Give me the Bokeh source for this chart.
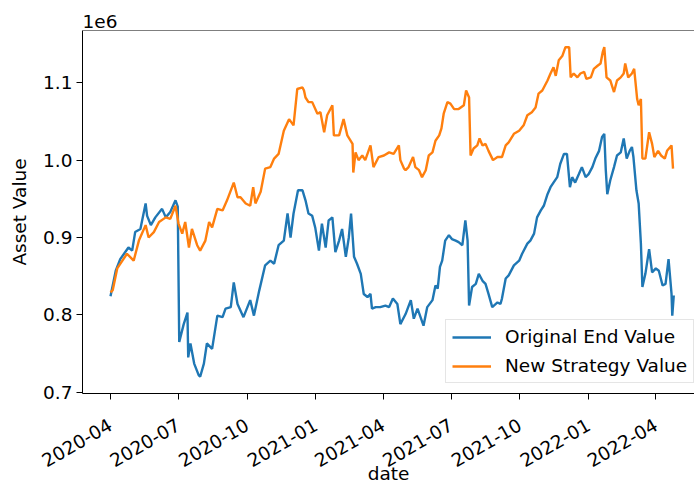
import math
import pandas as pd
from bokeh.plotting import figure
from bokeh.models import (Range1d, FixedTicker, DatetimeTickFormatter, CustomJSTickFormatter,
                          Span, ColumnDataSource)
from bokeh.embed import file_html
from bokeh.resources import INLINE

# ---------------- data ----------------
orig_dates = ["2020-04-01","2020-04-08","2020-04-14","2020-04-25","2020-04-30","2020-05-04","2020-05-11","2020-05-18","2020-05-20","2020-05-25",
              "2020-05-31","2020-06-09","2020-06-14","2020-06-20","2020-06-27","2020-06-30","2020-07-02","2020-07-08","2020-07-13","2020-07-14",
              "2020-07-17","2020-07-22","2020-07-28","2020-07-30","2020-08-04","2020-08-08","2020-08-15","2020-08-22","2020-08-29","2020-09-02",
              "2020-09-09","2020-09-13","2020-09-18","2020-09-26","2020-10-05","2020-10-10","2020-10-17","2020-10-25","2020-11-01","2020-11-06",
              "2020-11-12","2020-11-19","2020-11-24","2020-11-28","2020-12-02","2020-12-08","2020-12-14","2020-12-18","2020-12-22","2020-12-27",
              "2020-12-31","2021-01-05","2021-01-09","2021-01-14","2021-01-18","2021-01-23","2021-01-27","2021-02-01","2021-02-05","2021-02-10",
              "2021-02-14","2021-02-17","2021-02-21","2021-02-25","2021-03-02","2021-03-06","2021-03-11","2021-03-15","2021-03-17","2021-03-22",
              "2021-03-28","2021-04-04","2021-04-09","2021-04-14","2021-04-20","2021-04-24","2021-05-01","2021-05-08","2021-05-12","2021-05-17",
              "2021-05-21","2021-05-25","2021-05-30","2021-06-06","2021-06-10","2021-06-13","2021-06-16","2021-06-19","2021-06-23","2021-06-28",
              "2021-07-02","2021-07-07","2021-07-11","2021-07-16","2021-07-20","2021-07-23","2021-07-25","2021-07-29","2021-08-03","2021-08-07",
              "2021-08-12","2021-08-16","2021-08-20","2021-08-25","2021-09-01","2021-09-05","2021-09-07","2021-09-12","2021-09-16","2021-09-23",
              "2021-09-30","2021-10-04","2021-10-11","2021-10-15","2021-10-20","2021-10-24","2021-10-29","2021-11-02","2021-11-07","2021-11-11",
              "2021-11-15","2021-11-20","2021-11-24","2021-11-29","2021-12-03","2021-12-07","2021-12-10","2021-12-14","2021-12-19","2021-12-23",
              "2021-12-28","2022-01-01","2022-01-06","2022-01-10","2022-01-15","2022-01-19","2022-01-22","2022-01-24","2022-01-26","2022-01-30",
              "2022-02-04","2022-02-08","2022-02-13","2022-02-17","2022-02-21","2022-02-25","2022-02-28","2022-03-02","2022-03-06","2022-03-09",
              "2022-03-12","2022-03-14","2022-03-18","2022-03-23","2022-03-27","2022-04-01","2022-04-05","2022-04-10","2022-04-14","2022-04-18",
              "2022-04-22","2022-04-23","2022-04-25"]
orig_values_k = [824,857,872,887,883,907,911,944,928,916,
                 926,937,926,933,948,940,765,788,803,745,
                 763,737,722,720,737,763,756,799,797,808,
                 810,842,814,797,819,799,831,864,870,866,
                 890,896,931,900,931,961,961,948,931,928,
                 913,883,918,887,922,926,881,896,911,875,
                 900,931,875,866,853,827,823,827,808,810,
                 810,812,810,821,814,788,801,819,795,808,
                 797,786,810,819,838,834,862,870,896,903,
                 898,896,894,890,922,896,812,836,840,853,
                 844,840,827,810,816,814,821,847,851,864,
                 870,879,892,896,905,926,935,941,956,965,
                 971,978,995,1008,1008,965,978,971,982,991,
                 978,982,991,1002,1012,1030,1034,987,956,974,
                 991,1006,1010,1028,1002,1012,1017,1004,961,944,
                 892,836,853,885,855,860,857,838,840,872,
                 827,799,825]

new_dates = ["2020-04-01","2020-04-04","2020-04-10","2020-04-23","2020-05-02","2020-05-09","2020-05-18","2020-05-22","2020-05-29","2020-06-05",
             "2020-06-14","2020-06-20","2020-06-27","2020-07-01","2020-07-06","2020-07-10","2020-07-15","2020-07-19","2020-07-26","2020-07-30",
             "2020-08-06","2020-08-11","2020-08-15","2020-08-22","2020-08-29","2020-09-04","2020-09-13","2020-09-18","2020-09-22","2020-09-29",
             "2020-10-05","2020-10-09","2020-10-12","2020-10-19","2020-10-25","2020-11-01","2020-11-06","2020-11-12","2020-11-19","2020-11-26",
             "2020-12-02","2020-12-07","2020-12-14","2020-12-16","2020-12-18","2020-12-22","2020-12-27","2021-01-03","2021-01-07","2021-01-12",
             "2021-01-16","2021-01-23","2021-01-25","2021-02-01","2021-02-07","2021-02-12","2021-02-19","2021-02-20","2021-02-23","2021-02-27",
             "2021-03-04","2021-03-08","2021-03-15","2021-03-19","2021-03-26","2021-04-02","2021-04-09","2021-04-15","2021-04-22","2021-04-24",
             "2021-04-29","2021-05-01","2021-05-05","2021-05-11","2021-05-14","2021-05-19","2021-05-23","2021-05-28","2021-06-01","2021-06-06",
             "2021-06-10","2021-06-15","2021-06-18","2021-06-21","2021-06-26","2021-06-30","2021-07-05","2021-07-11","2021-07-18","2021-07-21",
             "2021-07-25","2021-07-27","2021-07-31","2021-08-05","2021-08-08","2021-08-12","2021-08-16","2021-08-20","2021-08-26","2021-09-01",
             "2021-09-07","2021-09-12","2021-09-16","2021-09-23","2021-09-30","2021-10-06","2021-10-11","2021-10-17","2021-10-22","2021-10-26",
             "2021-10-31","2021-11-07","2021-11-11","2021-11-15","2021-11-18","2021-11-22","2021-11-27","2021-12-01","2021-12-06","2021-12-08",
             "2021-12-12","2021-12-17","2021-12-21","2021-12-26","2021-12-29","2022-01-04","2022-01-08","2022-01-13","2022-01-17","2022-01-20",
             "2022-01-22","2022-01-25","2022-01-30","2022-02-04","2022-02-08","2022-02-13","2022-02-17","2022-02-19","2022-02-23","2022-02-28",
             "2022-03-03","2022-03-07","2022-03-09","2022-03-12","2022-03-14","2022-03-18","2022-03-23","2022-03-27","2022-03-30","2022-04-04",
             "2022-04-08","2022-04-13","2022-04-16","2022-04-22","2022-04-24"]
new_values_k = [829,832,860,879,870,896,916,900,907,920,
                926,924,941,918,905,920,887,911,890,883,
                896,920,913,937,935,948,971,952,952,944,
                941,965,944,959,989,991,1002,1008,1038,1053,
                1045,1092,1094,1090,1081,1075,1075,1060,1062,1036,
                1058,1071,1032,1032,1053,1032,1021,984,1010,1000,
                1006,1000,1019,991,1004,1006,1010,1008,1019,1000,
                989,987,991,1004,991,987,978,987,1006,1010,
                1025,1032,1041,1060,1075,1073,1066,1066,1071,1090,
                1081,1006,1015,1019,1028,1019,1021,1012,1000,1004,
                1004,1019,1023,1034,1038,1045,1058,1062,1068,1086,
                1090,1103,1112,1120,1109,1129,1135,1146,1146,1107,
                1112,1107,1112,1114,1105,1107,1118,1122,1125,1140,
                1146,1107,1103,1088,1103,1107,1112,1125,1107,1112,
                1118,1079,1071,1079,1002,1002,1036,1021,1004,1012,
                1006,1002,1012,1019,989]

series_names = ["Original End Value", "New Strategy Value"]
x_tick_labels = ["2020-04", "2020-07", "2020-10", "2021-01", "2021-04",
                 "2021-07", "2021-10", "2022-01", "2022-04"]
y_tick_values = [700000, 800000, 900000, 1000000, 1100000]
offset_text = "1e6"
x_label_text = "date"
y_label_text = "Asset Value"

# ---------------- layout / style constants ----------------
X_START = "2020-02-23 12:00"
X_END = "2022-05-22 18:00"
Y_START = 698300
Y_END = 1167600
FONT = "DejaVu Sans"
FS = "18.5px"
BLUE = "#1f77b4"
ORANGE = "#ff7f0e"


def ms(s):
    return pd.Timestamp(s).value / 1e6


n1 = min(len(orig_dates), len(orig_values_k))
n2 = min(len(new_dates), len(new_values_k))
src_orig = ColumnDataSource(dict(date=pd.to_datetime(orig_dates[:n1]),
                                 value=[v * 1000 for v in orig_values_k[:n1]]))
src_new = ColumnDataSource(dict(date=pd.to_datetime(new_dates[:n2]),
                                value=[v * 1000 for v in new_values_k[:n2]]))

p = figure(width=694, height=488, x_axis_type="datetime",
           output_backend="svg", toolbar_location=None,
           x_range=Range1d(ms(X_START), ms(X_END)),
           y_range=Range1d(Y_START, Y_END),
           min_border_left=82, min_border_right=0,
           min_border_top=30, min_border_bottom=95)

p.line("date", "value", source=src_orig, color=BLUE, line_width=2.4,
       legend_label=series_names[0])
p.line("date", "value", source=src_new, color=ORANGE, line_width=2.4,
       legend_label=series_names[1])

p.background_fill_color = "white"
p.border_fill_color = "white"
p.outline_line_color = None
p.xgrid.visible = False
p.ygrid.visible = False

# top spine
p.add_layout(Span(location=Y_END, dimension="width", line_color="black", line_width=1))

# offset text shown as a left-aligned title
p.title.text = offset_text
p.title.align = "left"
p.title.text_font = FONT
p.title.text_font_size = FS
p.title.text_font_style = "normal"
p.title.text_color = "black"
p.title.offset = 0
p.title.standoff = 6

for ax in (p.xaxis[0], p.yaxis[0]):
    ax.axis_line_color = "black"
    ax.axis_line_width = 1
    ax.major_tick_line_color = "black"
    ax.major_tick_line_width = 1
    ax.major_tick_out = 6
    ax.major_tick_in = 0
    ax.minor_tick_line_color = None
    ax.major_label_text_font = FONT
    ax.major_label_text_font_size = FS
    ax.major_label_text_color = "black"
    ax.axis_label_text_font = FONT
    ax.axis_label_text_font_size = FS
    ax.axis_label_text_font_style = "normal"
    ax.axis_label_text_color = "black"

p.xaxis.ticker = FixedTicker(ticks=[ms(t + "-01") for t in x_tick_labels])
p.xaxis.formatter = DatetimeTickFormatter(
    milliseconds="%Y-%m", seconds="%Y-%m", minsec="%Y-%m", minutes="%Y-%m",
    hourmin="%Y-%m", hours="%Y-%m", days="%Y-%m", months="%Y-%m", years="%Y-%m")
p.xaxis.major_label_orientation = math.pi / 6
p.xaxis.major_label_standoff = 24
p.xaxis.axis_label = x_label_text
p.xaxis.axis_label_standoff = -13

p.yaxis.ticker = FixedTicker(ticks=y_tick_values)
p.yaxis.formatter = CustomJSTickFormatter(code="return (tick / 1e6).toFixed(1);")
p.yaxis.major_label_standoff = 4
p.yaxis.axis_label = y_label_text
p.yaxis.axis_label_standoff = 10

lg = p.legend[0]
lg.location = (363, 10)
lg.label_text_font = FONT
lg.label_text_font_size = FS
lg.label_text_color = "black"
lg.glyph_width = 39
lg.glyph_height = 20
lg.label_height = 20
lg.label_standoff = 14
lg.padding = 6
lg.spacing = 8
lg.margin = 0
lg.border_line_color = "#cccccc"
lg.border_line_width = 1
lg.background_fill_alpha = 0.8

open("out.html", "w").write(file_html(p, INLINE))
